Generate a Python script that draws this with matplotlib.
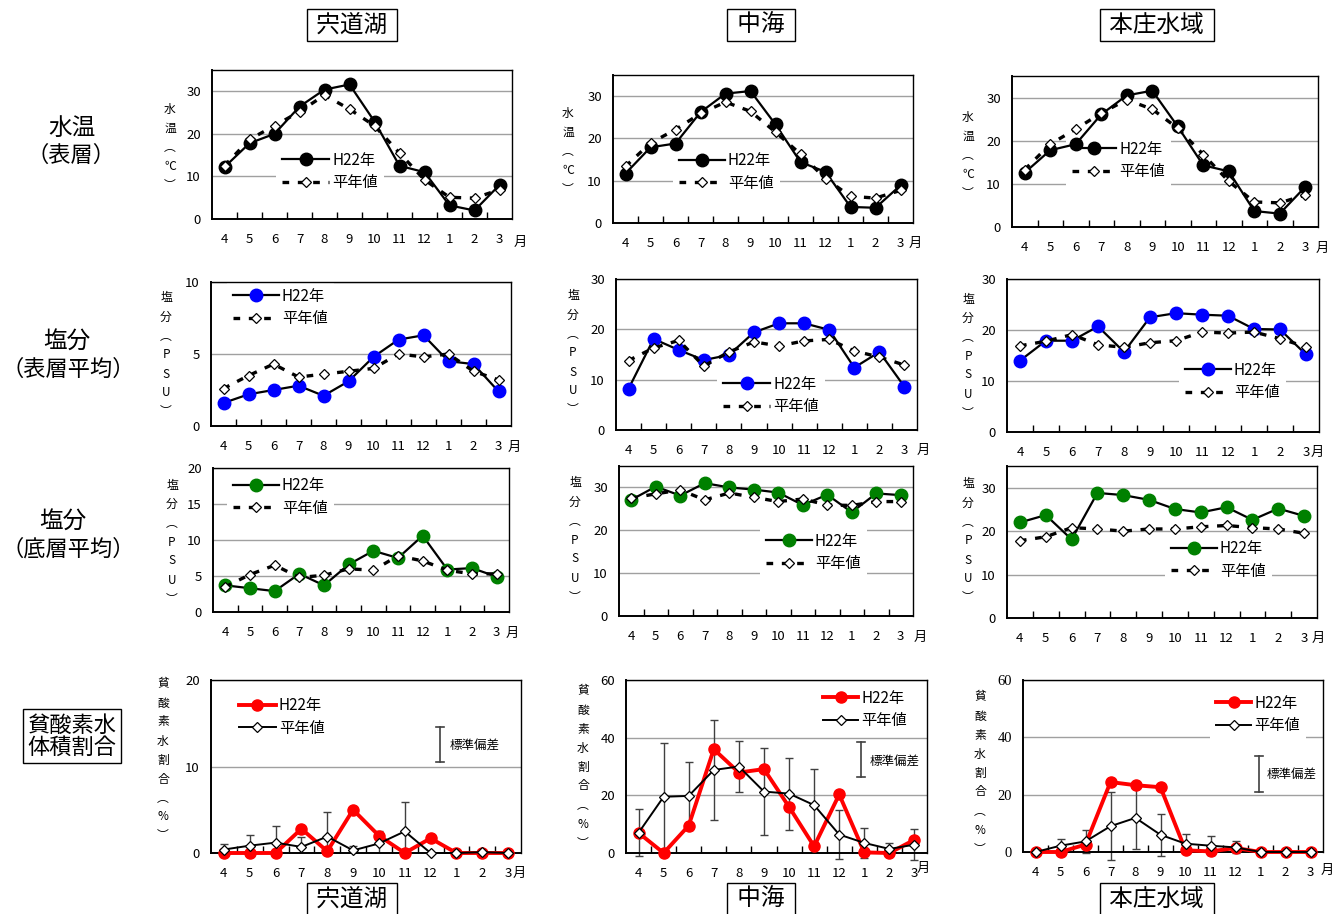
import matplotlib
matplotlib.use('Agg')
import matplotlib.pyplot as plt
from matplotlib.lines import Line2D
import numpy as np

plt.rcParams['font.family'] = ['Noto Sans CJK JP', 'DejaVu Sans']

# ---------------- data ----------------
MONTHS = ['4', '5', '6', '7', '8', '9', '10', '11', '12', '1', '2', '3']
SITES = ['宍道湖', '中海', '本庄水域']
ROW_TITLES_MAIN = ['水温', '塩分', '塩分']
ROW_TITLES_SUB = ['（表層）', '（表層平均）', '（底層平均）']
BOX_TITLE = '貧酸素水\n体積割合'
YLABELS = ['水\n温\n︵\n℃\n︶', '塩\n分\n︵\nP\nS\nU\n︶', '塩\n分\n︵\nP\nS\nU\n︶',
           '貧\n酸\n素\n水\n割\n合\n︵\n%\n︶']
LEGEND_LABELS = ['H22年', '平年値']
SD_LABEL = '標準偏差'
MONTH_UNIT = '月'

temp_h22_shinji = [12.2, 17.8, 20.0, 26.4, 30.4, 31.6, 22.9, 12.5, 11.0, 3.2, 2.0, 8.0]
temp_h22_nakaumi = [11.7, 17.9, 18.8, 26.2, 30.6, 31.2, 23.3, 14.4, 12.1, 3.8, 3.6, 8.9]
temp_h22_honjo = [12.6, 17.8, 19.2, 26.1, 30.5, 31.6, 23.3, 14.3, 12.9, 3.7, 3.1, 9.3]
temp_avg_shinji = [12.5, 18.7, 21.9, 25.2, 29.1, 25.8, 21.9, 15.5, 9.2, 5.1, 4.9, 6.9]
temp_avg_nakaumi = [13.4, 18.9, 22.1, 25.9, 28.6, 26.4, 21.5, 16.3, 10.5, 6.3, 5.9, 7.7]
temp_avg_honjo = [13.3, 19.2, 22.7, 26.4, 29.5, 27.3, 22.9, 16.8, 10.6, 5.8, 5.6, 7.4]

salsurf_h22_shinji = [1.6, 2.2, 2.5, 2.8, 2.1, 3.1, 4.8, 6.0, 6.3, 4.5, 4.3, 2.4]
salsurf_h22_nakaumi = [8.2, 18.1, 15.9, 13.9, 14.9, 19.4, 21.2, 21.2, 19.9, 12.4, 15.5, 8.6]
salsurf_h22_honjo = [14.0, 17.9, 17.9, 20.7, 15.7, 22.5, 23.3, 23.0, 22.8, 20.2, 20.1, 15.2]
salsurf_avg_shinji = [2.6, 3.5, 4.3, 3.4, 3.6, 3.8, 4.0, 5.0, 4.8, 5.0, 3.8, 3.2]
salsurf_avg_nakaumi = [13.8, 16.3, 17.8, 12.7, 15.5, 17.5, 16.7, 17.7, 18.0, 15.7, 14.5, 12.9]
salsurf_avg_honjo = [16.9, 17.8, 19.1, 17.1, 16.6, 17.5, 17.9, 19.6, 19.4, 19.6, 18.3, 16.7]

salbot_h22_shinji = [3.7, 3.3, 2.9, 5.3, 3.7, 6.6, 8.5, 7.5, 10.6, 5.9, 6.1, 4.9]
salbot_h22_nakaumi = [27.1, 30.2, 28.1, 31.0, 30.0, 29.5, 28.8, 25.9, 28.3, 24.2, 28.6, 28.2]
salbot_h22_honjo = [22.0, 23.7, 18.1, 28.8, 28.3, 27.2, 25.1, 24.3, 25.5, 22.6, 25.2, 23.5]
salbot_avg_shinji = [3.5, 5.2, 6.5, 4.8, 5.1, 6.0, 5.8, 7.8, 7.1, 5.8, 5.3, 5.3]
salbot_avg_nakaumi = [27.5, 28.5, 29.4, 27.1, 28.7, 27.7, 26.7, 27.3, 25.9, 25.8, 26.7, 26.7]
salbot_avg_honjo = [17.8, 18.7, 20.8, 20.5, 20.0, 20.5, 20.5, 21.0, 21.3, 20.8, 20.5, 19.5]

anox_h22_shinji = [0, 0, 0, 2.8, 0.2, 5.0, 2.0, 0, 1.7, 0, 0, 0]
anox_h22_nakaumi = [7.0, 0, 9.5, 36.0, 27.9, 29.1, 16.0, 2.3, 20.3, 0.2, 0, 4.6]
anox_h22_honjo = [0, 0, 2.6, 24.4, 23.3, 22.6, 0.6, 0.2, 1.4, 0, 0, 0]
anox_avg_shinji = [0.4, 0.85, 1.2, 0.7, 1.9, 0.3, 1.1, 2.5, 0, 0, 0.1, 0]
anox_avg_nakaumi = [7.0, 19.5, 19.8, 28.8, 30.0, 21.3, 20.6, 16.6, 6.4, 3.5, 1.4, 2.9]
anox_avg_honjo = [0, 2.2, 3.7, 9.0, 11.9, 6.0, 2.9, 2.2, 1.6, 0, 0, 0]
anox_sd_shinji = [0.6, 1.25, 1.9, 1.2, 2.8, 0.5, 1.5, 3.4, 0, 0, 0.1, 0]
anox_sd_nakaumi = [8.1, 18.6, 11.8, 17.4, 9.0, 15.0, 12.5, 12.7, 8.5, 5.2, 1.9, 5.5]
anox_sd_honjo = [0, 2.3, 3.9, 11.8, 11.0, 7.4, 3.4, 3.3, 2.1, 0, 0, 0]

H22 = [[temp_h22_shinji, temp_h22_nakaumi, temp_h22_honjo],
       [salsurf_h22_shinji, salsurf_h22_nakaumi, salsurf_h22_honjo],
       [salbot_h22_shinji, salbot_h22_nakaumi, salbot_h22_honjo],
       [anox_h22_shinji, anox_h22_nakaumi, anox_h22_honjo]]
AVG = [[temp_avg_shinji, temp_avg_nakaumi, temp_avg_honjo],
       [salsurf_avg_shinji, salsurf_avg_nakaumi, salsurf_avg_honjo],
       [salbot_avg_shinji, salbot_avg_nakaumi, salbot_avg_honjo],
       [anox_avg_shinji, anox_avg_nakaumi, anox_avg_honjo]]
SD = [anox_sd_shinji, anox_sd_nakaumi, anox_sd_honjo]

YLIM = [[35, 35, 35], [10, 30, 30], [20, 35, 35], [20, 60, 60]]
YTICKS = [[[0, 10, 20, 30]] * 3,
          [[0, 5, 10], [0, 10, 20, 30], [0, 10, 20, 30]],
          [[0, 5, 10, 15, 20], [0, 10, 20, 30], [0, 10, 20, 30]],
          [[0, 10, 20], [0, 20, 40, 60], [0, 20, 40, 60]]]

# ---------------- layout (pixels) ----------------
W, H = 1343, 914
fig = plt.figure(figsize=(W / 100, H / 100), dpi=100)


def fx(px):
    return px / W


def fy(py):
    return 1 - py / H


AX_PX = [[(212, 70, 512, 219), (613, 75, 913, 223), (1012, 76, 1318, 227)],
         [(211, 282, 511, 426), (616, 279, 917, 430), (1007, 279, 1319, 432)],
         [(213, 468, 509, 612), (619, 466, 913, 616), (1007, 466, 1317, 618)],
         [(211, 680, 521, 853), (626, 680, 927, 853), (1023, 680, 1323, 852)]]
TSUKI_PX = [[(520, 242), (915, 243), (1322, 248)],
            [(514, 447), (923, 450), (1317, 452)],
            [(512, 633), (920, 637), (1318, 638)],
            [(519, 873), (923, 868), (1327, 870)]]
YLAB_PX = [[(170, 147), (568, 151), (968, 155)],
           [(166, 355), (573, 353), (968, 356)],
           [(172, 542), (575, 540), (968, 541)],
           [(163, 760), (583, 767), (980, 773)]]
# handle-left x, centre y, handle length (em)
LEG_PX = [[(282, 171.5, 3.1), (679, 172, 3.0), (1072, 160.5, 2.9)],
          [(233, 307.5, 3.0), (723, 395.5, 3.1), (1185, 381.5, 3.0)],
          [(233, 497, 3.0), (766, 552.5, 3.0), (1171, 560, 3.0)],
          [(239, 717, 2.4), (823, 709.5, 2.3), (1216, 714.5, 2.3)]]
SDLEG_PX = [(440, 727, 762, 450, 745), (861, 742, 777, 870, 761), (1259, 756, 792, 1267, 774)]
ROWT_MAIN_PX = [(72, 128), (67, 342), (63, 522)]
ROWT_SUB_PX = [(71, 155), (68, 369), (68, 549)]
BOXT_PX = (72, 736)
COLT_X = [352, 761, 1157]
MARKER_COLORS = ['black', '#0000ff', '#008000', '#ff0000']

x = np.arange(len(MONTHS))
GRID = '#a0a0a0'
LEG_FS = 11
LEG_BP = 0.4
TICK_FS = 9.5
TITLE_FS = 17

for r in range(4):
    for c in range(3):
        l, t, rr, b = AX_PX[r][c]
        ax = fig.add_axes([fx(l), fy(b), (rr - l) / W, (b - t) / H])
        ax.set_xlim(-0.5, 11.5)
        ax.set_ylim(0, YLIM[r][c])
        ax.set_yticks(YTICKS[r][c])
        ax.set_xticks(x)
        ax.set_xticklabels(MONTHS)
        ax.set_xticks(np.arange(0.5, 11, 1), minor=True)
        ax.tick_params(axis='x', which='major', length=0, pad=10, labelsize=TICK_FS)
        ax.tick_params(axis='x', which='minor', direction='in', length=5, width=1, color='black')
        ax.tick_params(axis='y', length=0, pad=8, labelsize=TICK_FS)
        if r == 3 and c == 2:
            for lab in ax.get_yticklabels():
                lab.set_family(['Liberation Serif', 'DejaVu Serif'])
                lab.set_fontsize(10.5)
        ax.yaxis.grid(True, color=GRID, lw=1)
        ax.set_axisbelow(True)
        for s in ['left', 'bottom']:
            ax.spines[s].set_linewidth(1.4)
        for s in ['top', 'right']:
            ax.spines[s].set_linewidth(1.0)
        mc = MARKER_COLORS[r]
        if r < 3:
            ax.plot(x, H22[r][c], color='black', lw=1.6, marker='o', ms=9,
                    mfc=mc, mec=mc, zorder=3, clip_on=False)
            ax.plot(x, AVG[r][c], color='black', lw=2.4, ls=(0, (2.0, 2.6)), marker='D',
                    ms=5.5, mfc='white', mec='black', mew=0.9, zorder=4, clip_on=False)
            h1 = Line2D([], [], color='black', lw=1.6, marker='o', ms=9, mfc=mc, mec=mc)
            h2 = Line2D([], [], color='black', lw=2.4, ls=(0, (2.0, 2.6)), marker='D', ms=5.5,
                        mfc='white', mec='black', mew=0.9)
        else:
            eb = ax.errorbar(x, AVG[r][c], yerr=SD[c], fmt='none', ecolor='#404040',
                             elinewidth=1, capsize=3, capthick=1, zorder=2)
            for art in list(eb.lines[1]) + list(eb.lines[2]):
                art.set_clip_on(c == 0)
            ax.plot(x, H22[r][c], color='#ff0000', lw=2.8, marker='o', ms=8,
                    mfc='#ff0000', mec='#ff0000', zorder=3, clip_on=False)
            ax.plot(x, AVG[r][c], color='black', lw=1.4, marker='D', ms=5.5,
                    mfc='white', mec='black', mew=0.9, zorder=4, clip_on=False)
            h1 = Line2D([], [], color='#ff0000', lw=2.8, marker='o', ms=8, mfc='#ff0000', mec='#ff0000')
            h2 = Line2D([], [], color='black', lw=1.4, marker='D', ms=5.5, mfc='white', mec='black', mew=0.9)
            # standard deviation key
            sx, sy0, sy1, tx, ty = SDLEG_PX[c]
            fig.add_artist(Line2D([fx(sx), fx(sx)], [fy(sy0), fy(sy1)], color='#404040', lw=1.2))
            for yy in (sy0, sy1):
                fig.add_artist(Line2D([fx(sx - 4), fx(sx + 4)], [fy(yy), fy(yy)], color='#404040', lw=1.2))
            fig.text(fx(tx), fy(ty), SD_LABEL, ha='left', va='center', fontsize=9)
        hx, hy, hl = LEG_PX[r][c]
        fs_px = LEG_FS * 100 / 72
        leg = ax.legend([h1, h2], LEGEND_LABELS, loc='center left',
                        bbox_to_anchor=(fx(hx - LEG_BP * fs_px), fy(hy)),
                        bbox_transform=fig.transFigure, frameon=True, fancybox=False,
                        framealpha=1, facecolor='white', edgecolor='none',
                        borderpad=LEG_BP, borderaxespad=0, handlelength=hl,
                        handletextpad=0.2, labelspacing=0.35, fontsize=LEG_FS)
        leg.set_zorder(1)
        # month unit
        mx, my = TSUKI_PX[r][c]
        fig.text(fx(mx), fy(my), MONTH_UNIT, ha='center', va='center', fontsize=9.5)
        # y label (vertical)
        yx, yy = YLAB_PX[r][c]
        fig.text(fx(yx), fy(yy), YLABELS[r], ha='center', va='center', fontsize=8.5,
                 linespacing=1.6, multialignment='center')

# row titles
for r in range(3):
    tx, ty = ROWT_MAIN_PX[r]
    fig.text(fx(tx), fy(ty), ROW_TITLES_MAIN[r], ha='center', va='center', fontsize=TITLE_FS)
    tx, ty = ROWT_SUB_PX[r]
    fig.text(fx(tx), fy(ty), ROW_TITLES_SUB[r], ha='center', va='center', fontsize=16)
fig.text(fx(BOXT_PX[0]), fy(BOXT_PX[1]), BOX_TITLE, ha='center', va='center', fontsize=16,
         linespacing=0.95, multialignment='center',
         bbox=dict(boxstyle='square,pad=0.2', fc='white', ec='black', lw=1))

# column titles (top and bottom)
for c in range(3):
    for ty in (25, 899):
        fig.text(fx(COLT_X[c]), fy(ty), ' ' + SITES[c] + ' ', ha='center', va='center',
                 fontsize=TITLE_FS, bbox=dict(boxstyle='square,pad=0.2', fc='white', ec='black', lw=1))

fig.savefig('out.png', dpi=100)
